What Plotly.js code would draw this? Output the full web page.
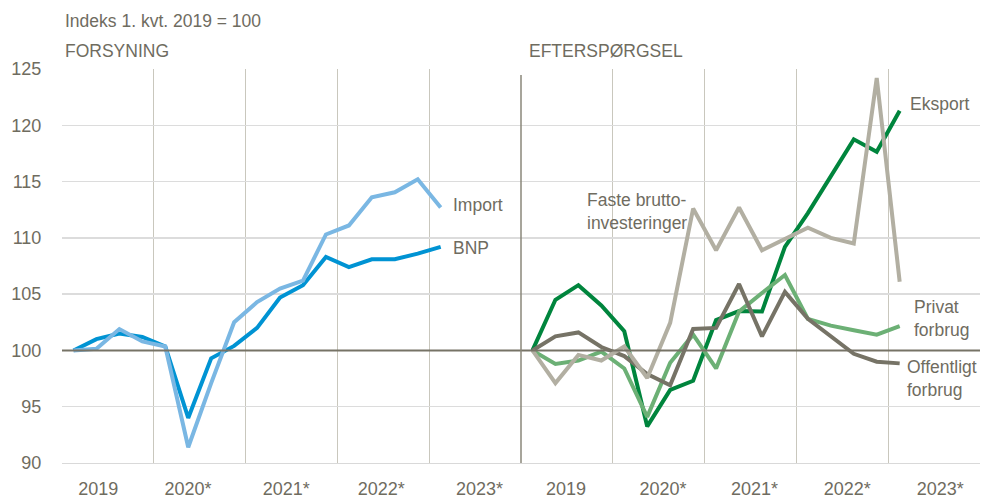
<!DOCTYPE html>
<html><head><meta charset="utf-8">
<script src="https://cdn.plot.ly/plotly-3.0.1.min.js"></script>
<style>html,body{margin:0;padding:0;background:#fff}#c{width:985px;height:498px}</style>
</head><body><div id="c"></div>
<script>
// Quarters 2019K1 .. 2023K1
const quarters = ['2019K1','2019K2','2019K3','2019K4','2020K1','2020K2','2020K3','2020K4','2021K1','2021K2','2021K3','2021K4','2022K1','2022K2','2022K3','2022K4','2023K1'];
const yearLabels = ['2019','2020*','2021*','2022*','2023*'];
const yTicks = [90,95,100,105,110,115,120,125];

const bnp    = [100,101.0,101.5,101.2,100.35,94.0,99.3,100.4,102.0,104.7,105.8,108.3,107.4,108.1,108.1,108.6,109.2];
const importv= [100,100.15,101.9,100.8,100.35,91.4,97.1,102.5,104.3,105.5,106.2,110.3,111.1,113.6,114.05,115.2,112.7];

const eksport    = [100,104.5,105.8,104.0,101.7,93.25,96.5,97.3,102.7,103.5,103.45,109.2,112.2,115.4,118.75,117.65,121.3];
const faste      = [100,97.1,99.6,99.1,100.35,97.55,102.45,112.6,108.9,112.7,108.9,109.9,110.9,110.0,109.5,124.2,106.1];
const privat     = [100,98.8,99.1,99.9,98.4,94.1,98.9,101.4,98.4,103.45,105.1,106.7,102.8,102.2,101.8,101.4,102.15];
const offentligt = [100,101.25,101.6,100.3,99.5,97.9,96.9,101.9,102.0,105.9,101.25,105.2,102.8,101.2,99.7,99.0,98.85];

// position of each quarter on a year-scale axis (year index + quarter centre)
const qx = quarters.map((q,i)=> Math.floor(i/4) + ((i%4)+0.5)/4);

const TXT = '#6f6c5f';
const FONT = '"Liberation Sans",Arial,sans-serif';
const W = 4;
const TS = 18;   // tick font size
const LS = 17.5; // label font size

function tr(y, color, xa){ return {x: qx, y: y, type:'scatter', mode:'lines', xaxis: xa, yaxis:'y',
  line:{color:color, width:W}, hoverinfo:'skip', showlegend:false}; }

const data = [
  tr(bnp,'#0093d3','x'),
  tr(importv,'#7ab7e3','x'),
  tr(eksport,'#00853d','x2'),
  tr(privat,'#6cb075','x2'),
  tr(offentligt,'#767366','x2'),
  tr(faste,'#b2afa2','x2')
];

const xcommon = {range:[0,5], showgrid:false, zeroline:false, showline:true, linecolor:'#d9d9d9', linewidth:1,
  tickmode:'array', ticktext: yearLabels, ticks:'outside', ticklen:9, tickcolor:'rgba(0,0,0,0)',
  tickfont:{size:TS, color:TXT, family:FONT},
  minor:{tickmode:'array', tickvals:[0,1,2,3,4,5], showgrid:true, gridcolor:'#c9c7bd', gridwidth:1, ticks:''},
  fixedrange:true};

const layout = {
  width:985, height:498, margin:{l:62, r:5, t:69, b:35},
  paper_bgcolor:'#fff', plot_bgcolor:'#fff',
  font:{family:FONT, color:TXT},
  xaxis: Object.assign({}, xcommon, {domain:[0,0.5], anchor:'y', tickvals:[0.395,1.373,2.443,3.478,4.548]}),
  xaxis2: Object.assign({}, xcommon, {domain:[0.5,1], anchor:'y', tickvals:[0.49,1.546,2.544,3.554,4.566]}),
  yaxis: {range:[90,125], tickmode:'array', tickvals:yTicks, showgrid:true, gridcolor:'#dcdcdc', gridwidth:1.5,
    zeroline:false, showline:false, ticks:'outside', ticklen:16, tickcolor:'rgba(0,0,0,0)',
    tickfont:{size:TS, color:TXT, family:FONT}, fixedrange:true},
  shapes:[
    {type:'line', xref:'paper', yref:'y', x0:0, x1:1, y0:100, y1:100, line:{color:'#767366', width:2}},
    {type:'line', xref:'paper', yref:'paper', x0:0.5, x1:0.5, y0:0, y1:0.985, line:{color:'#8a877a', width:1.5}}
  ],
  annotations:[
    {text:'Indeks 1. kvt. 2019 = 100', xref:'paper', yref:'paper', x:0.001, y:1.122, xanchor:'left', yanchor:'middle', showarrow:false, font:{size:LS, color:TXT, family:FONT}},
    {text:'FORSYNING', xref:'paper', yref:'paper', x:0.001, y:1.046, xanchor:'left', yanchor:'middle', showarrow:false, font:{size:LS, color:TXT, family:FONT}},
    {text:'EFTERSPØRGSEL', xref:'paper', yref:'paper', x:0.507, y:1.046, xanchor:'left', yanchor:'middle', showarrow:false, font:{size:LS, color:TXT, family:FONT}},
    {text:'Import', xref:'x', yref:'y', x:4.24, y:112.9, xanchor:'left', yanchor:'middle', showarrow:false, font:{size:LS, color:TXT, family:FONT}},
    {text:'BNP', xref:'x', yref:'y', x:4.24, y:109.1, xanchor:'left', yanchor:'middle', showarrow:false, font:{size:LS, color:TXT, family:FONT}},
    {text:'Faste brutto-<br>investeringer', xref:'x2', yref:'y', x:0.70, y:112.35, xanchor:'left', yanchor:'middle', align:'left', showarrow:false, font:{size:LS, color:TXT, family:FONT}},
    {text:'Eksport', xref:'x2', yref:'y', x:4.22, y:121.9, xanchor:'left', yanchor:'middle', showarrow:false, font:{size:LS, color:TXT, family:FONT}},
    {text:'Privat<br>forbrug', xref:'x2', yref:'y', x:4.26, y:102.85, xanchor:'left', yanchor:'middle', align:'left', showarrow:false, font:{size:LS, color:TXT, family:FONT}},
    {text:'Offentligt<br>forbrug', xref:'x2', yref:'y', x:4.18, y:97.5, xanchor:'left', yanchor:'middle', align:'left', showarrow:false, font:{size:LS, color:TXT, family:FONT}}
  ]
};

Plotly.newPlot('c', data, layout, {staticPlot:true, displayModeBar:false});
</script></body></html>
